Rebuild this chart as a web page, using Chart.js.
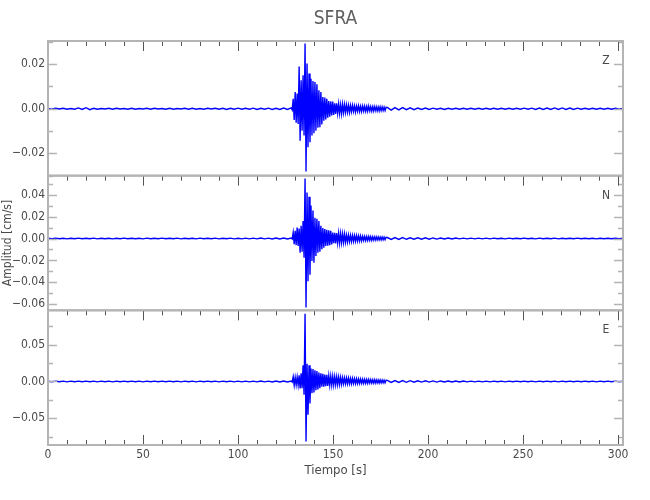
<!DOCTYPE html>
<html>
<head>
<meta charset="utf-8">
<title>SFRA</title>
<script src="https://cdn.jsdelivr.net/npm/chart.js@4.4.0/dist/chart.umd.min.js"></script>
<style>
  html, body { margin: 0; background: #fff; }
</style>
</head>
<body>
<canvas id="sfra" width="650" height="500"></canvas>
<script>
// sampling of the hand-read traces (seconds)
const preStart = 0, preStep = 2;          // quiet part before the event
const eventStart = 128, eventStep = 0.52; // strong motion
const postStart = 178.6, postStep = 2;    // coda / tail
const timeMax = 302.6;

// Z component (cm/s)
const zPre = [0.0001,-0.0002,0.0002,-0.0001,0.0002,-0.0002,0.0001,-0.0002,0.0004,-0.0003,0.0005,-0.0004,0.0002,-0.0002,0.0001,-0.0001,
  0.0002,-0.0002,0.0002,-0.0001,0.0001,-0.0002,0.0002,-0.0002,0.0001,-0.0001,0.0002,-0.0002,0.0002,-0.0001,0.0001,-0.0002,
  0.0002,-0.0002,0.0001,-0.0001,0.0002,-0.0002,0.0002,-0.0002,0.0001,-0.0002,0.0002,-0.0001,0.0002,-0.0002,0.0002,-0.0003,
  0.0002,-0.0002,0.0003,-0.0002,0.0002,-0.0002,0.0003,-0.0003,0.0002,-0.0002,0.0003,-0.0003,0.0002,-0.0003,0.0003,-0.0003];
const zEvent = [0.0004,-0.0005,0.0045,-0.0050,0.0075,-0.0062,0.0068,-0.0068,0.0190,-0.0143,
  0.0128,-0.0098,0.0150,-0.0120,0.0293,-0.0281,0.0203,-0.0173,0.0158,-0.0150,
  0.0135,-0.0120,0.0125,-0.0110,0.0120,-0.0098,0.0110,-0.0085,0.0083,-0.0083,
  0.0075,-0.0070,0.0053,-0.0053,0.0050,-0.0048,0.0045,-0.0040,0.0035,-0.0035,
  0.0033,-0.0030,0.0032,-0.0028,0.0025,-0.0023,0.0024,-0.0020,0.0022,-0.0021,
  0.0018,-0.0022,0.0020,-0.0017,0.0019,-0.0016,0.0017,-0.0015,0.0015,-0.0016,
  0.0014,-0.0013,0.0015,-0.0012,0.0013,-0.0014,0.0012,-0.0011,0.0013,-0.0012,
  0.0011,-0.0012,0.0012,-0.0010,0.0011,-0.0011,0.0010,-0.0011,0.0012,-0.0009,
  0.0010,-0.0010,0.0009,-0.0010,0.0010,-0.0008,0.0009,-0.0009,0.0008,-0.0009,
  0.0009,-0.0008,0.0008,-0.0008,0.0007,-0.0008,0.0007];
const zPost = [0.0006,-0.0006,0.0005,-0.0005,0.0005,-0.0004,0.0004,-0.0004,0.0003,-0.0003,0.0003,-0.0003,0.0003,-0.0002,0.0002,-0.0003,
  0.0002,-0.0002,0.0002,-0.0002,0.0002,-0.0002,0.0002,-0.0002,0.0002,-0.0002,0.0002,-0.0002,0.0002,-0.0002,0.0002,-0.0002,
  0.0002,-0.0002,0.0002,-0.0002,0.0003,-0.0002,0.0003,-0.0003,0.0003,-0.0003,0.0003,-0.0003,0.0004,-0.0003,0.0004,-0.0003,
  0.0003,-0.0003,0.0003,-0.0002,0.0002,-0.0002,0.0002,-0.0002,0.0002,-0.0002,0.0002,-0.0002,0.0002,-0.0002,0.0002];

// N component
const nPre = [0.0002,-0.0002,0.0003,-0.0002,0.0002,-0.0003,0.0002,-0.0002,0.0003,-0.0002,0.0002,-0.0002,0.0003,-0.0003,0.0002,-0.0002,
  0.0002,-0.0003,0.0002,-0.0002,0.0003,-0.0002,0.0002,-0.0002,0.0002,-0.0003,0.0003,-0.0002,0.0002,-0.0002,0.0003,-0.0002,
  0.0002,-0.0002,0.0003,-0.0003,0.0002,-0.0002,0.0002,-0.0003,0.0003,-0.0002,0.0002,-0.0002,0.0003,-0.0003,0.0002,-0.0002,
  0.0003,-0.0003,0.0002,-0.0003,0.0003,-0.0003,0.0003,-0.0003,0.0004,-0.0003,0.0003,-0.0004,0.0004,-0.0004,0.0004,-0.0004];
const nEvent = [0.0004,-0.0005,0.0055,-0.0052,0.0070,-0.0060,0.0100,-0.0068,0.0090,-0.0130,
  0.0117,-0.0120,0.0160,-0.0175,0.0547,-0.0630,0.0420,-0.0390,0.0380,-0.0330,
  0.0300,-0.0206,0.0255,-0.0220,0.0190,-0.0160,0.0180,-0.0130,0.0160,-0.0120,
  0.0117,-0.0098,0.0095,-0.0085,0.0086,-0.0068,0.0080,-0.0065,0.0075,-0.0060,
  0.0070,-0.0055,0.0055,-0.0043,0.0052,-0.0045,0.0050,-0.0040,0.0048,-0.0042,
  0.0045,-0.0038,0.0042,-0.0036,0.0040,-0.0033,0.0031,-0.0031,0.0030,-0.0028,
  0.0029,-0.0027,0.0028,-0.0026,0.0027,-0.0025,0.0026,-0.0023,0.0024,-0.0022,
  0.0023,-0.0021,0.0020,-0.0018,0.0019,-0.0018,0.0018,-0.0017,0.0018,-0.0016,
  0.0017,-0.0016,0.0016,-0.0015,0.0015,-0.0014,0.0015,-0.0013,0.0014,-0.0013,
  0.0013,-0.0012,0.0013,-0.0012,0.0012,-0.0011,0.0011];
const nPost = [0.0009,-0.0008,0.0008,-0.0008,0.0008,-0.0007,0.0007,-0.0007,0.0007,-0.0006,0.0006,-0.0006,0.0005,-0.0005,0.0005,-0.0004,
  0.0004,-0.0004,0.0004,-0.0003,0.0003,-0.0003,0.0003,-0.0003,0.0003,-0.0003,0.0003,-0.0003,0.0003,-0.0002,0.0002,-0.0003,
  0.0003,-0.0002,0.0002,-0.0002,0.0003,-0.0002,0.0002,-0.0003,0.0003,-0.0002,0.0002,-0.0002,0.0003,-0.0003,0.0002,-0.0002,
  0.0002,-0.0002,0.0003,-0.0002,0.0002,-0.0002,0.0002,-0.0003,0.0002,-0.0002,0.0002,-0.0002,0.0002,-0.0002,0.0002];

// E component
const ePre = [0.0004,-0.0004,0.0005,-0.0004,0.0004,-0.0005,0.0004,-0.0004,0.0005,-0.0004,0.0004,-0.0004,0.0005,-0.0005,0.0004,-0.0004,
  0.0004,-0.0005,0.0004,-0.0004,0.0005,-0.0004,0.0004,-0.0004,0.0004,-0.0005,0.0005,-0.0004,0.0004,-0.0004,0.0005,-0.0004,
  0.0004,-0.0004,0.0005,-0.0005,0.0004,-0.0004,0.0004,-0.0005,0.0005,-0.0004,0.0004,-0.0004,0.0005,-0.0005,0.0004,-0.0004,
  0.0005,-0.0005,0.0004,-0.0005,0.0005,-0.0005,0.0005,-0.0005,0.0006,-0.0005,0.0005,-0.0006,0.0006,-0.0006,0.0006,-0.0006];
const eEvent = [0.0006,-0.0007,0.0063,-0.0050,0.0055,-0.0045,0.0060,-0.0050,0.0085,-0.0095,
  0.0110,-0.0090,0.0220,-0.0180,0.0918,-0.0815,0.0240,-0.0450,0.0220,-0.0300,
  0.0175,-0.0160,0.0170,-0.0150,0.0150,-0.0117,0.0140,-0.0110,0.0120,-0.0090,
  0.0110,-0.0072,0.0105,-0.0070,0.0095,-0.0065,0.0090,-0.0060,0.0076,-0.0050,
  0.0072,-0.0050,0.0070,-0.0048,0.0065,-0.0045,0.0062,-0.0042,0.0060,-0.0040,
  0.0055,-0.0038,0.0050,-0.0032,0.0048,-0.0032,0.0045,-0.0030,0.0044,-0.0030,
  0.0040,-0.0030,0.0040,-0.0028,0.0038,-0.0028,0.0035,-0.0027,0.0033,-0.0026,
  0.0032,-0.0025,0.0030,-0.0025,0.0028,-0.0024,0.0027,-0.0024,0.0026,-0.0023,
  0.0025,-0.0022,0.0024,-0.0022,0.0023,-0.0021,0.0022,-0.0020,0.0021,-0.0020,
  0.0020,-0.0019,0.0019,-0.0018,0.0018,-0.0017,0.0017];
const ePost = [0.0014,-0.0013,0.0013,-0.0012,0.0012,-0.0011,0.0011,-0.0010,0.0010,-0.0009,0.0009,-0.0008,0.0008,-0.0008,0.0007,-0.0007,
  0.0007,-0.0006,0.0006,-0.0006,0.0006,-0.0005,0.0005,-0.0005,0.0005,-0.0005,0.0005,-0.0005,0.0005,-0.0004,0.0004,-0.0005,
  0.0005,-0.0004,0.0004,-0.0004,0.0005,-0.0004,0.0004,-0.0005,0.0005,-0.0004,0.0004,-0.0004,0.0005,-0.0005,0.0004,-0.0004,
  0.0004,-0.0004,0.0005,-0.0004,0.0004,-0.0004,0.0004,-0.0005,0.0004,-0.0004,0.0004,-0.0004,0.0004,-0.0004,0.0004];

// panels top to bottom: name, axis id, range, tick steps
const panels = [
  { name: "Z", id: "yZ", min: -0.0300, max: 0.0304, minor: 0.01, major: 0.02 },
  { name: "N", id: "yN", min: -0.0655, max: 0.0573, minor: 0.01, major: 0.02 },
  { name: "E", id: "yE", min: -0.0861, max: 0.0964, minor: 0.025, major: 0.05 }
];

const frameColor = "#b4b4b4";
const textColor = "#4a4a4a";
Chart.defaults.font.family = '"Liberation Sans Narrow", "DejaVu Sans Condensed", "Liberation Sans", sans-serif';
Chart.defaults.color = textColor;

function onStep(v, step) {
  return Math.abs(v / step - Math.round(v / step)) < 1e-6;
}

function fmt(v) {
  const s = Math.abs(v).toFixed(2);
  return v < -1e-9 ? "\u2212" + s : s;
}

function buildTrace(pre, event, post) {
  const pts = [];
  pre.forEach((v, i) => pts.push({ x: preStart + i * preStep, y: v }));
  event.forEach((v, i) => pts.push({ x: eventStart + i * eventStep, y: v }));
  post.forEach((v, i) => pts.push({ x: postStart + i * postStep, y: v }));
  return pts;
}

function fixAxis(width, height) {
  return function (scale) {
    if (width) scale.width = width;
    if (height) scale.height = height;
    scale.paddingTop = 0;
    scale.paddingBottom = 0;
    scale.paddingLeft = 0;
    scale.paddingRight = 0;
  };
}

// frame, inward ticks and component letters
const seismoFrame = {
  id: "seismoFrame",
  afterDraw(chart) {
    const ctx = chart.ctx;
    const xs = chart.scales.x;
    const left = chart.chartArea.left, right = chart.chartArea.right;
    ctx.save();
    panels.forEach((p, k) => {
      const s = chart.scales[p.id];
      const top = s.top, bottom = s.bottom;

      // y ticks, both sides, pointing in
      ctx.strokeStyle = frameColor;
      ctx.lineWidth = 1.5;
      s.ticks.forEach(t => {
        if (!onStep(t.value, p.minor)) return;
        const y = Math.round(s.getPixelForValue(t.value)) + 0.5;
        const len = onStep(t.value, p.major) ? 9 : 5;
        ctx.beginPath();
        ctx.moveTo(left, y); ctx.lineTo(left + len, y);
        ctx.moveTo(right, y); ctx.lineTo(right - len, y);
        ctx.stroke();
      });

      // x ticks hanging from the top of every panel
      ctx.strokeStyle = "#555";
      ctx.lineWidth = 1;
      xs.ticks.forEach(t => {
        if (!onStep(t.value, 10)) return;
        const x = Math.round(xs.getPixelForValue(t.value)) + 0.5;
        const len = onStep(t.value, 50) ? 10 : 5;
        ctx.beginPath();
        ctx.moveTo(x, top); ctx.lineTo(x, top + len);
        if (k === panels.length - 1) {
          ctx.moveTo(x, bottom); ctx.lineTo(x, bottom - len);
        }
        ctx.stroke();
      });

      // panel frame
      ctx.strokeStyle = frameColor;
      ctx.lineWidth = 2;
      ctx.strokeRect(left, top, right - left, bottom - top);

      // component letter
      ctx.fillStyle = textColor;
      ctx.font = '12px "Liberation Sans Narrow", "DejaVu Sans Condensed", sans-serif';
      ctx.textAlign = "center";
      ctx.textBaseline = "middle";
      ctx.fillText(p.name, right - 17, top + 20);
    });
    ctx.restore();
  }
};

const traces = [buildTrace(zPre, zEvent, zPost), buildTrace(nPre, nEvent, nPost), buildTrace(ePre, eEvent, ePost)];

const scales = {
  x: {
    type: "linear",
    min: 0,
    max: timeMax,
    grid: { display: false, drawTicks: false },
    border: { display: false },
    ticks: {
      stepSize: 10,
      includeBounds: false,
      autoSkip: false,
      maxRotation: 0,
      padding: 3,
      color: textColor,
      font: { size: 12 },
      callback: v => (onStep(v, 50) ? String(Math.round(v)) : "")
    },
    title: { display: true, text: "Tiempo [s]", color: textColor, font: { size: 13 }, padding: { top: 0, bottom: 22 } },
    afterFit: fixAxis(0, 55)
  }
};

// stacked axes are laid out bottom-up, so add them from the last panel
panels.slice().reverse().forEach(p => {
  scales[p.id] = {
    type: "linear",
    position: "left",
    stack: "traces",
    stackWeight: 1,
    min: p.min,
    max: p.max,
    grid: { display: false, drawTicks: false },
    border: { display: false },
    ticks: {
      stepSize: p.minor,
      includeBounds: false,
      autoSkip: false,
      padding: 3,
      color: textColor,
      font: { size: 12 },
      callback: v => (onStep(v, p.major) ? fmt(v) : "")
    },
    title: {
      display: p.id === "yN",
      text: "Amplitud [cm/s]",
      color: textColor,
      font: { size: 12 },
      padding: { top: 1, bottom: 0 }
    },
    afterFit: fixAxis(48, 0)
  };
});

new Chart(document.getElementById("sfra"), {
  type: "line",
  data: {
    datasets: traces.map((pts, k) => ({
      label: panels[k].name,
      data: pts,
      yAxisID: panels[k].id,
      borderColor: "#0000ff",
      borderWidth: 1.4,
      pointRadius: 0,
      tension: 0,
      fill: false
    }))
  },
  options: {
    responsive: false,
    animation: false,
    events: [],
    layout: { padding: { left: 0, right: 27, top: 0, bottom: 0 } },
    plugins: {
      legend: { display: false },
      tooltip: { enabled: false },
      title: {
        display: true,
        text: "SFRA",
        fullSize: false,
        color: "#606060",
        font: { size: 19, weight: "normal" },
        padding: { top: 8, bottom: 10.2 }
      }
    },
    scales: scales
  },
  plugins: [seismoFrame]
});
</script>
</body>
</html>
